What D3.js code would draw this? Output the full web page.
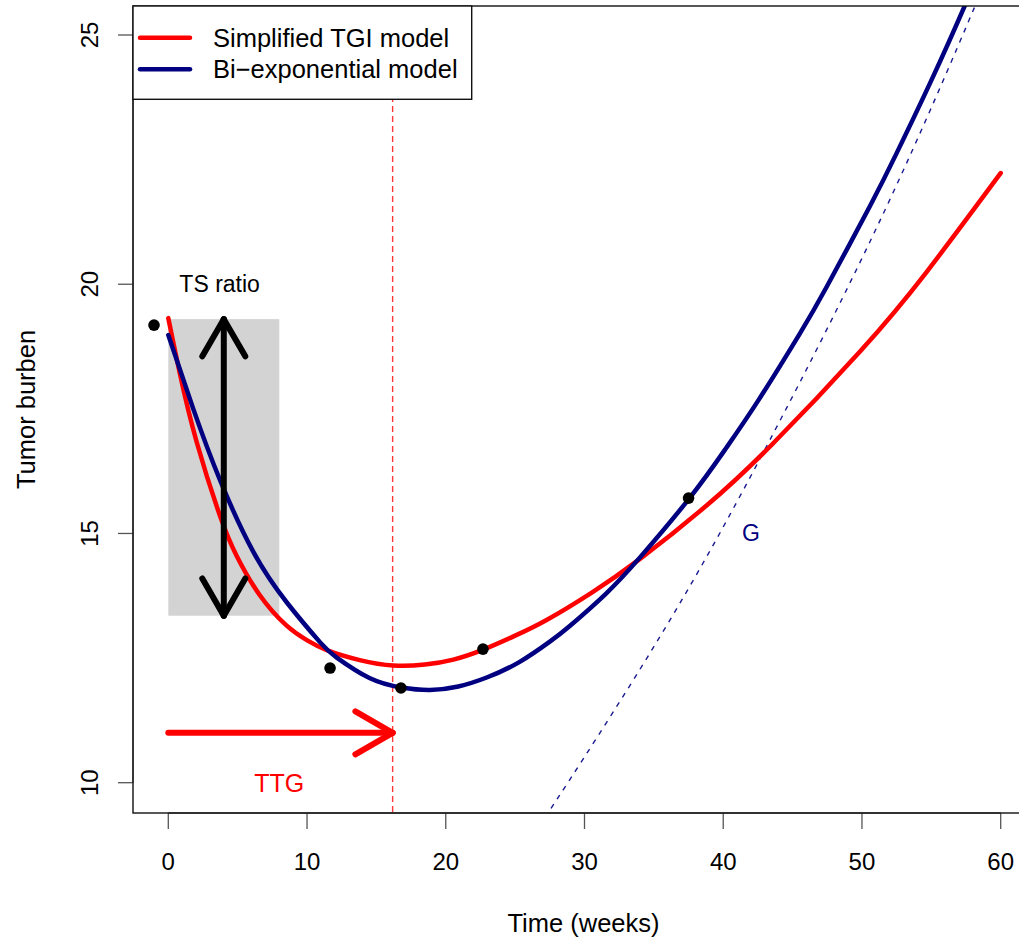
<!DOCTYPE html>
<html>
<head>
<meta charset="utf-8">
<script src="https://cdn.jsdelivr.net/npm/d3@7"></script>
<style>
  html, body { margin: 0; padding: 0; background: #fff; }
  svg { display: block; font-family: "Liberation Sans", Arial, Helvetica, sans-serif; }
</style>
</head>
<body>
<svg id="chart" width="1019" height="938"></svg>
<script>
// ---------------- data ----------------
const obsTime = [-1.03, 11.66, 16.77, 22.68, 37.5];
const obsBurden = [19.18, 12.30, 11.90, 12.68, 15.71];

const tgiTime = [0, 0.84, 2.05, 3.73, 4.93, 6.6, 8.53, 9.98, 11.42, 13.8, 16.22, 18.5, 20.55, 22.7, 25.0, 27.3, 30.5, 34.0, 38.8, 43.5, 49.86, 54.67, 60];
const tgiBurden = [19.32, 18.20, 16.83, 15.35, 14.55, 13.76, 13.15, 12.86, 12.66, 12.46, 12.35, 12.37, 12.47, 12.67, 12.95, 13.27, 13.81, 14.49, 15.56, 16.78, 18.65, 20.25, 22.23];

const biexpTime = [0, 1.8, 3.73, 6.13, 8.53, 10.93, 12.14, 14.5, 16.8, 18.86, 20.9, 22.95, 25.3, 27.5, 28.96, 31.5, 34.0, 37.6, 40.2, 42.6, 45.5, 47.46, 50.58, 52.5, 55.0, 57.4, 60];
const biexpBurden = [18.98, 17.50, 16.07, 14.63, 13.62, 12.82, 12.51, 12.10, 11.91, 11.86, 11.93, 12.11, 12.42, 12.83, 13.15, 13.78, 14.52, 15.72, 16.71, 17.70, 19.00, 19.95, 21.57, 22.63, 24.09, 25.58, 27.28];

const growthTime = [26.0, 27.39, 35.44, 43.37, 51.66, 58.15, 61.0];
const growthBurden = [8.82, 9.40, 12.93, 16.88, 21.49, 25.58, 27.45];

const ttgWeeks = 16.17;
const tsRatioBox = { t0: 0, t1: 8, low: 13.35, high: 19.3 };
const tsArrowTime = 4;
const ttgArrowLevel = 11;

const xTicks = [0, 10, 20, 30, 40, 50, 60];
const yTicks = [10, 15, 20, 25];

const legendLabels = ["Simplified TGI model", "Bi\u2212exponential model"];
const seriesColors = ["#ff0000", "#000080"];

const annotations = [
  { t: 3.7, v: 20, text: "TS ratio", color: "#000000", size: 23 },
  { t: 8, v: 10, text: "TTG", color: "#ff0000", size: 25 },
  { t: 42, v: 15, text: "G", color: "#000080", size: 23 }
];

// ---------------- layout ----------------
const svg = d3.select("#chart");
const x = d3.scaleLinear().domain([0, 60]).range([168.3, 1000.7]);
const y = d3.scaleLinear().domain([10, 25]).range([782.7, 35]);

const box = { left: 133, right: 1034, top: 6, bottom: 813 };

svg.append("defs").append("clipPath").attr("id", "plotClip")
  .append("rect")
  .attr("x", box.left).attr("y", box.top)
  .attr("width", box.right - box.left).attr("height", box.bottom - box.top);

const plot = svg.append("g").attr("clip-path", "url(#plotClip)");

// grey TS ratio rectangle
plot.append("rect")
  .attr("x", x(tsRatioBox.t0)).attr("y", y(tsRatioBox.high))
  .attr("width", x(tsRatioBox.t1) - x(tsRatioBox.t0))
  .attr("height", y(tsRatioBox.low) - y(tsRatioBox.high))
  .attr("fill", "#d3d3d3");

// vertical dashed TTG line
plot.append("line")
  .attr("x1", x(ttgWeeks)).attr("x2", x(ttgWeeks))
  .attr("y1", box.top).attr("y2", box.bottom)
  .attr("stroke", "#ff3838").attr("stroke-width", 1.4)
  .attr("stroke-dasharray", "6,4");

const smoothLine = d3.line().x(d => x(d[0])).y(d => y(d[1])).curve(d3.curveNatural);

// G dashed growth curve
const gData = growthTime.map((t, i) => [t, growthBurden[i]]);
plot.append("path")
  .datum(gData)
  .attr("d", smoothLine)
  .attr("fill", "none").attr("stroke", "#1a1a90").attr("stroke-width", 1.4)
  .attr("stroke-dasharray", "5,6");

// model curves
const tgiData = tgiTime.map((t, i) => [t, tgiBurden[i]]);
const biexpData = biexpTime.map((t, i) => [t, biexpBurden[i]]);

plot.append("path").datum(tgiData).attr("d", smoothLine)
  .attr("fill", "none").attr("stroke", seriesColors[0]).attr("stroke-width", 4.5)
  .attr("stroke-linecap", "round").attr("stroke-linejoin", "round");
plot.append("path").datum(biexpData).attr("d", smoothLine)
  .attr("fill", "none").attr("stroke", seriesColors[1]).attr("stroke-width", 4.5)
  .attr("stroke-linecap", "round").attr("stroke-linejoin", "round");

// observed points
plot.selectAll("circle.obs").data(obsTime.map((t, i) => [t, obsBurden[i]]))
  .enter().append("circle")
  .attr("cx", d => x(d[0])).attr("cy", d => y(d[1])).attr("r", 5.8)
  .attr("fill", "#000");

// arrows
function arrowHead(g, tipX, tipY, dirX, dirY, len, color, w) {
  const ang = Math.PI / 6;
  const base = Math.atan2(dirY, dirX) + Math.PI;
  [base - ang, base + ang].forEach(a => {
    g.append("line")
      .attr("x1", tipX).attr("y1", tipY)
      .attr("x2", tipX + len * Math.cos(a)).attr("y2", tipY + len * Math.sin(a))
      .attr("stroke", color).attr("stroke-width", w).attr("stroke-linecap", "round");
  });
}

// TS ratio double arrow
const ax = x(tsArrowTime);
plot.append("line")
  .attr("x1", ax).attr("x2", ax)
  .attr("y1", y(tsRatioBox.high)).attr("y2", y(tsRatioBox.low))
  .attr("stroke", "#000").attr("stroke-width", 6).attr("stroke-linecap", "round");
arrowHead(plot, ax, y(tsRatioBox.high), 0, -1, 43, "#000", 6);
arrowHead(plot, ax, y(tsRatioBox.low), 0, 1, 43, "#000", 6);

// TTG arrow
plot.append("line")
  .attr("x1", x(0)).attr("x2", x(ttgWeeks))
  .attr("y1", y(ttgArrowLevel)).attr("y2", y(ttgArrowLevel))
  .attr("stroke", "#ff0000").attr("stroke-width", 6).attr("stroke-linecap", "round");
arrowHead(plot, x(ttgWeeks), y(ttgArrowLevel), 1, 0, 43, "#ff0000", 6);

// annotations
plot.selectAll("text.ann").data(annotations).enter().append("text")
  .attr("x", d => x(d.t)).attr("y", d => y(d.v))
  .attr("text-anchor", "middle").attr("dominant-baseline", "central")
  .attr("font-size", d => d.size).attr("fill", d => d.color)
  .text(d => d.text);

// ---------------- axes ----------------
const axisColor = "#555";
const xa = svg.append("g");
xa.append("line").attr("x1", x(xTicks[0])).attr("x2", x(xTicks[xTicks.length - 1]))
  .attr("y1", box.bottom).attr("y2", box.bottom).attr("stroke", axisColor).attr("stroke-width", 1.3);
xa.selectAll("line.tk").data(xTicks).enter().append("line")
  .attr("x1", d => x(d)).attr("x2", d => x(d))
  .attr("y1", box.bottom).attr("y2", box.bottom + 16)
  .attr("stroke", axisColor).attr("stroke-width", 1.3);
xa.selectAll("text").data(xTicks).enter().append("text")
  .attr("x", d => x(d)).attr("y", 870)
  .attr("text-anchor", "middle").attr("font-size", 24).attr("fill", "#000")
  .text(d => d);

const ya = svg.append("g");
ya.append("line").attr("y1", y(yTicks[0])).attr("y2", y(yTicks[yTicks.length - 1]))
  .attr("x1", box.left).attr("x2", box.left).attr("stroke", axisColor).attr("stroke-width", 1.3);
ya.selectAll("line.tk").data(yTicks).enter().append("line")
  .attr("y1", d => y(d)).attr("y2", d => y(d))
  .attr("x1", box.left).attr("x2", box.left - 15)
  .attr("stroke", axisColor).attr("stroke-width", 1.3);
ya.selectAll("text").data(yTicks).enter().append("text")
  .attr("transform", d => `translate(98,${y(d)}) rotate(-90)`)
  .attr("text-anchor", "middle").attr("font-size", 24).attr("fill", "#000")
  .text(d => d);

// box
svg.append("rect")
  .attr("x", box.left).attr("y", box.top)
  .attr("width", box.right - box.left).attr("height", box.bottom - box.top)
  .attr("fill", "none").attr("stroke", "#111").attr("stroke-width", 1.4);

// axis titles
svg.append("text").attr("x", (box.left + box.right) / 2).attr("y", 931.5)
  .attr("text-anchor", "middle").attr("font-size", 25.5).attr("fill", "#000")
  .text("Time (weeks)");
svg.append("text")
  .attr("transform", `translate(35,${(box.top + box.bottom) / 2}) rotate(-90)`)
  .attr("text-anchor", "middle").attr("font-size", 25.5).attr("fill", "#000")
  .text("Tumor burben");

// ---------------- legend ----------------
const lg = svg.append("g");
lg.append("rect").attr("x", box.left).attr("y", box.top)
  .attr("width", 471.7 - box.left).attr("height", 99.3 - box.top)
  .attr("fill", "#fff").attr("stroke", "#111").attr("stroke-width", 1.4);
legendLabels.forEach((lab, i) => {
  const ly = 37.7 + i * 31.6;
  lg.append("line").attr("x1", 140).attr("x2", 190).attr("y1", ly).attr("y2", ly)
    .attr("stroke", seriesColors[i]).attr("stroke-width", 4.5).attr("stroke-linecap", "round");
  lg.append("text").attr("x", 213).attr("y", ly + 9)
    .attr("font-size", 25.5).attr("fill", "#000").text(lab);
});
</script>
</body>
</html>
